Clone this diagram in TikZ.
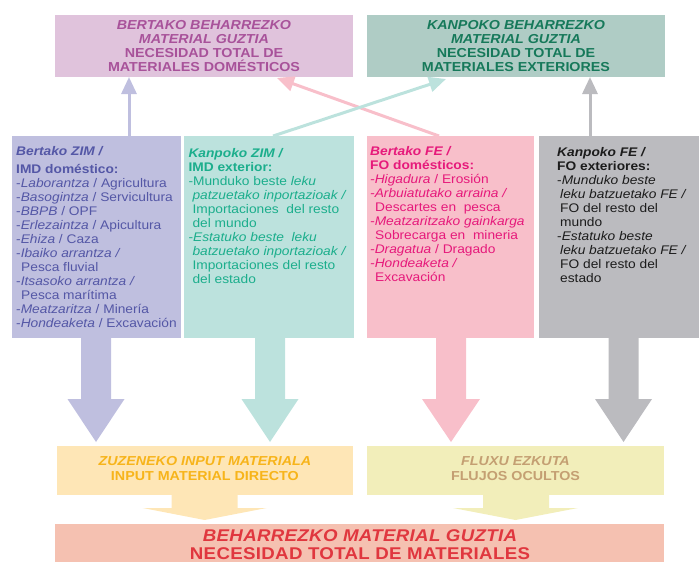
\documentclass[tikz,border=0pt]{standalone}
\usepackage{fontspec}
\setmainfont{Liberation Sans}[FakeStretch=1.1]
\usetikzlibrary{arrows.meta}
\definecolor{tpFill}{HTML}{E0C3DC}
\definecolor{tpText}{HTML}{A8529A}
\definecolor{tgFill}{HTML}{AFCCC5}
\definecolor{tgText}{HTML}{16795A}
\definecolor{lavFill}{HTML}{BFBFDF}
\definecolor{lavText}{HTML}{5457A6}
\definecolor{teaFill}{HTML}{BCE2DD}
\definecolor{teaText}{HTML}{1BAE8C}
\definecolor{pinFill}{HTML}{F8BFCA}
\definecolor{pinText}{HTML}{E6197B}
\definecolor{gryFill}{HTML}{BBBBBF}
\definecolor{gryText}{HTML}{1C1C1C}
\definecolor{yelFill}{HTML}{FEE6B6}
\definecolor{yelText}{HTML}{F7B41A}
\definecolor{khaFill}{HTML}{F2EEBA}
\definecolor{khaText}{HTML}{C49F72}
\definecolor{botFill}{HTML}{F5C1B1}
\definecolor{botText}{HTML}{E0373F}
\begin{document}
\begin{tikzpicture}[x=1pt,y=-1pt,
  panel/.style={inner sep=0pt, outer sep=0pt, anchor=north west},
  toptext/.style={align=center, font=\fontsize{13}{14}\selectfont\bfseries},
  midtext/.style={inner sep=0pt, anchor=north west, align=left, font=\fontsize{12.5}{14}\selectfont},
  lowtext/.style={align=center, font=\fontsize{13}{15}\selectfont\bfseries},
  thinarrow/.style={line width=3pt, -{Triangle[length=17pt,width=15pt]}}
]
\useasboundingbox (0,0) rectangle (699,562);

% top boxes
\node[panel, fill=tpFill, minimum width=298pt, minimum height=62pt] (tp) at (55,15) {};
\node[toptext, text=tpText] (tpt) at (tp.center) {\itshape BERTAKO BEHARREZKO\\\itshape MATERIAL GUZTIA\\NECESIDAD TOTAL DE\\MATERIALES DOMÉSTICOS};
\node[panel, fill=tgFill, minimum width=298pt, minimum height=62pt] (tg) at (367,15) {};
\node[toptext, text=tgText] (tgt) at (tg.center) {\itshape KANPOKO BEHARREZKO\\\itshape MATERIAL GUZTIA\\NECESIDAD TOTAL DE\\MATERIALES EXTERIORES};

% middle boxes
\node[panel, fill=lavFill, minimum width=168.5pt, minimum height=202.5pt] (lav) at (12,135.5) {};
\node[panel, fill=teaFill, minimum width=170pt, minimum height=202.5pt] (tea) at (184,135.5) {};
\node[panel, fill=pinFill, minimum width=167.5pt, minimum height=202.5pt] (pin) at (366.5,135.5) {};
\node[panel, fill=gryFill, minimum width=160pt, minimum height=202.5pt] (gry) at (539,135.5) {};

\node[midtext, text=lavText] (lavt) at (16,145.8) {%
\textbf{\textit{Bertako ZIM /}}\\[4.5pt]
\textbf{IMD doméstico:}\\
-\textit{Laborantza} / Agricultura\\
-\textit{Basogintza} / Servicultura\\
-\textit{BBPB} / OPF\\
-\textit{Erlezaintza} / Apicultura\\
-\textit{Ehiza} / Caza\\
-\textit{Ibaiko arrantza /}\\
\hspace*{5pt}Pesca fluvial\\
-\textit{Itsasoko arrantza /}\\
\hspace*{5pt}Pesca marítima\\
-\textit{Meatzaritza} / Minería\\
-\textit{Hondeaketa} / Excavación};

\node[midtext, text=teaText] (teat) at (188.3,147.8) {%
\textbf{\textit{Kanpoko ZIM /}}\\
\textbf{IMD exterior:}\\
-Munduko beste \textit{leku}\\
\hspace*{4pt}\textit{patzuetako inportazioak /}\\
\hspace*{4pt}Importaciones\ \ del resto\\
\hspace*{4pt}del mundo\\
-\textit{Estatuko beste\ \ leku}\\
\hspace*{4pt}\textit{batzuetako inportazioak /}\\
\hspace*{4pt}Importaciones del resto\\
\hspace*{4pt}del estado};

\node[midtext, text=pinText] (pint) at (370,145.8) {%
\textbf{\textit{Bertako FE /}}\\
\textbf{FO domésticos:}\\
\textit{-Higadura} / Erosión\\
\textit{-Arbuiatutako arraina /}\\
\hspace*{5pt}Descartes en\ \ pesca\\
\textit{-Meatzaritzako gainkarga}\\
\hspace*{5pt}Sobrecarga en\ \ mineria\\
\textit{-Dragatua} / Dragado\\
\textit{-Hondeaketa /}\\
\hspace*{5pt}Excavación};

\node[midtext, text=gryText] (gryt) at (557,146.8) {%
\textbf{\textit{Kanpoko FE /}}\\
\textbf{FO exteriores:}\\
-\textit{Munduko beste}\\
\hspace*{3pt}\textit{leku batzuetako FE /}\\
\hspace*{3pt}FO del resto del\\
\hspace*{3pt}mundo\\
-\textit{Estatuko beste}\\
\hspace*{3pt}\textit{leku batzuetako FE /}\\
\hspace*{3pt}FO del resto del\\
\hspace*{3pt}estado};

% thin connectors to top boxes
\coordinate (c1s) at (129,136);
\coordinate (c1e) at (129,77);
\coordinate (c2s) at (439,136);
\coordinate (c2e) at (277,78);
\coordinate (c3s) at (273,136);
\coordinate (c3e) at (446,79);
\coordinate (c4s) at (590,136);
\coordinate (c4e) at (590,77);
\draw[thinarrow, lavFill] (c1s) -- (c1e);
\draw[thinarrow, pinFill] (c2s) -- (c2e);
\draw[thinarrow, teaFill] (c3s) -- (c3e);
\draw[thinarrow, gryFill] (c4s) -- (c4e);

% big down arrows
\fill[lavFill] (81,337) -- (111,337) -- (111,399) -- (124.5,399) -- (96,442) -- (67.5,399) -- (81,399) -- cycle;
\fill[teaFill] (255,337) -- (285,337) -- (285,399) -- (298.5,399) -- (270,442) -- (241.5,399) -- (255,399) -- cycle;
\fill[pinFill] (436,337) -- (466,337) -- (466,399) -- (480,399) -- (451,442) -- (422,399) -- (436,399) -- cycle;
\fill[gryFill] (608.5,337) -- (638.5,337) -- (638.5,399) -- (652,399) -- (623.5,442) -- (595,399) -- (608.5,399) -- cycle;

% lower boxes
\node[panel, fill=yelFill, minimum width=296.5pt, minimum height=49pt] (yel) at (56.6,446) {};
\node[lowtext, text=yelText] (yelt) at ([yshift=2pt]yel.center) {\itshape ZUZENEKO INPUT MATERIALA\\INPUT MATERIAL DIRECTO};
\node[panel, fill=khaFill, minimum width=297pt, minimum height=49pt] (kha) at (367,446) {};
\node[lowtext, text=khaText] (khat) at ([yshift=2pt]kha.center) {\itshape FLUXU EZKUTA\\FLUJOS OCULTOS};

% small down arrows
\fill[yelFill] (171.6,494) -- (237.6,494) -- (237.6,508) -- (266.6,508) -- (204.6,520) -- (142.7,508) -- (171.6,508) -- cycle;
\fill[khaFill] (483,494) -- (549,494) -- (549,508) -- (578,508) -- (515.5,520) -- (453,508) -- (483,508) -- cycle;

% bottom box
\node[panel, fill=botFill, minimum width=609pt, minimum height=38pt] (bot) at (55,524) {};
\node[align=center, text=botText, inner sep=0pt, font=\fontsize{17}{18}\selectfont\bfseries\addfontfeature{LetterSpace=1.8}] (bott) at (360,545) {\itshape BEHARREZKO MATERIAL GUZTIA\\NECESIDAD TOTAL DE MATERIALES};
\end{tikzpicture}
\end{document}
